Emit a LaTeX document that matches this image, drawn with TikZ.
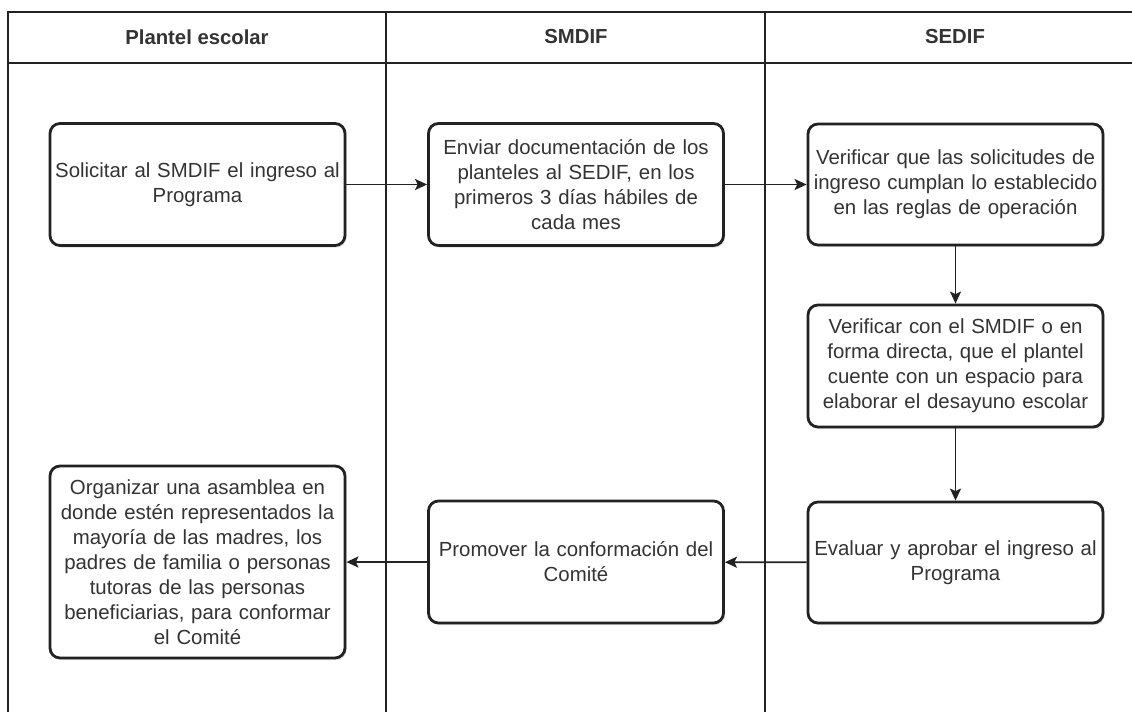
\documentclass[tikz,border=0pt]{standalone}
\usepackage{fontspec}
\setmainfont{Liberation Sans}
\usetikzlibrary{arrows.meta,shadows}
\definecolor{txt}{HTML}{333333}
\definecolor{ln}{HTML}{222222}
\begin{document}
\begin{tikzpicture}[x=1pt,y=-1pt,
  lane/.style={draw=ln,line width=1.8pt},
  hdr/.style={font=\fontsize{20.3}{24}\selectfont\bfseries,text=txt,anchor=center},
  proc/.style={draw=ln,line width=2.8pt,rounded corners=10pt,fill=white,
    minimum width=295pt,text width=290pt,align=center,inner sep=0pt,
    font=\fontsize{20.4}{25}\selectfont,text=txt,
    drop shadow={opacity=0.25,shadow xshift=1.5pt,shadow yshift=-2pt}},
  flow/.style={draw=ln,line width=1.8pt,-{Stealth[length=12pt,width=11pt,inset=2.5pt]}}]
\useasboundingbox (0,0) rectangle (1132,712);
% swimlane frame
\draw[lane] (8,712) -- (8,12) -- (1132,12);
\draw[lane] (8,63) -- (1132,63);
\draw[lane] (386,12) -- (386,712);
\draw[lane] (765,12) -- (765,712);
% headers
\node[hdr] (h1) at (197,37) {Plantel escolar};
\node[hdr] (h2) at (576,37) {SMDIF};
\node[hdr] (h3) at (955,37) {SEDIF};
% process boxes
\node[proc,minimum height=122pt] (b1) at (197.5,184.5) {Solicitar al SMDIF el ingreso al\\Programa};
\node[proc,minimum height=122pt] (b2) at (576,184.5) {Enviar documentación de los\\planteles al SEDIF, en los\\primeros 3 días hábiles de\\cada mes};
\node[proc,minimum height=121pt] (b3) at (955.5,184.5) {Verificar que las solicitudes de\\ingreso cumplan lo establecido\\en las reglas de operación};
\node[proc,minimum height=122pt] (b4) at (955.5,366) {Verificar con el SMDIF o en\\forma directa, que el plantel\\cuente con un espacio para\\elaborar el desayuno escolar};
\node[proc,minimum height=121pt] (b5) at (955.5,562.5) {Evaluar y aprobar el ingreso al\\Programa};
\node[proc,minimum height=122pt] (b6) at (576,562) {Promover la conformación del\\Comité};
\node[proc,minimum height=192pt] (b7) at (197.5,562) {Organizar una asamblea en\\donde estén representados la\\mayoría de las madres, los\\padres de familia o personas\\tutoras de las personas\\beneficiarias, para conformar\\el Comité};
% connectors
\draw[flow] (b1) -- (b2);
\draw[flow] (b2) -- (b3);
\draw[flow] (b3) -- (b4);
\draw[flow] (b4) -- (b5);
\draw[flow] (b5) -- (b6);
\draw[flow] (b6) -- (b7);
\end{tikzpicture}
\end{document}
